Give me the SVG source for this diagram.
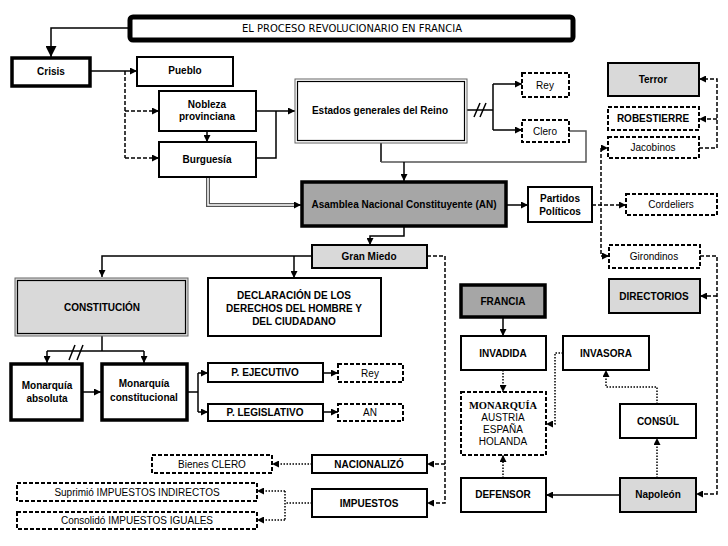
<svg xmlns="http://www.w3.org/2000/svg" width="728" height="546" viewBox="0 0 728 546">
<defs>
<marker id="ah" viewBox="0 0 8 8" refX="8" refY="4" markerWidth="7" markerHeight="7" orient="auto" markerUnits="userSpaceOnUse"><path d="M0,0 L8,4 L0,8 z" fill="#000"/></marker>
<marker id="ahb" viewBox="0 0 8 8" refX="8" refY="4" markerWidth="11" markerHeight="11" orient="auto" markerUnits="userSpaceOnUse"><path d="M0,0 L8,4 L0,8 z" fill="#000"/></marker>
<style>
.b{fill:#fff;stroke:#000;stroke-width:2}
.t{fill:#fff;stroke:#000;stroke-width:3.5}
.d{fill:#fff;stroke:#000;stroke-width:2;stroke-dasharray:4,2}
.g1{fill:#d9d9d9}
.g2{fill:#a6a6a6}
.tb{font-family:"Liberation Sans",Arial,sans-serif;font-size:10px;font-weight:bold;text-anchor:middle;fill:#000}
.tn{font-family:"Liberation Sans",Arial,sans-serif;font-size:10px;text-anchor:middle;fill:#000}
.s{fill:none;stroke:#000;stroke-width:1.5}
.da{fill:none;stroke:#000;stroke-width:1.5;stroke-dasharray:4,2}
.dt{fill:none;stroke:#000;stroke-width:1.5;stroke-dasharray:1.5,1.5}
</style>
</defs>
<rect width="728" height="546" fill="#fff"/>

<g id="connectors">
<path class="s" d="M128,28 H51 V57" stroke-width="3" marker-end="url(#ahb)"/>
<path class="s" d="M91,71 H137" marker-end="url(#ah)"/>
<path class="da" d="M125,71 V158"/>
<path class="da" d="M125,111 H159" marker-end="url(#ah)"/>
<path class="da" d="M125,158 H159" marker-end="url(#ah)"/>
<path class="s" d="M207,131 V142" marker-end="url(#ah)"/>
<path class="s" d="M256,111 H295" marker-end="url(#ah)"/>
<path class="s" d="M256,158 H276 V111"/>
<path class="s" d="M467,110 H493"/>
<path class="s" d="M493,84 V130"/>
<path class="s" d="M493,84 H522" marker-end="url(#ah)"/>
<path class="s" d="M493,130 H522" marker-end="url(#ah)"/>
<path class="s" d="M474,117 L480,103 M480,117 L486,103"/>
<path class="s" d="M381,143 V162"/>
<path fill="none" stroke="#555" stroke-width="1.5" d="M381,162 H586 V131 H569"/>
<path class="s" d="M404,162 V181" marker-end="url(#ah)"/>
<path fill="none" stroke="#555" stroke-width="4" d="M208,177 V205 H296"/>
<path fill="none" stroke="#fff" stroke-width="1.5" d="M208,177 V205 H296"/>
<path class="s" d="M296,205 H301" marker-end="url(#ah)"/>
<path class="s" d="M507,205 H528" marker-end="url(#ah)"/>
<path class="da" d="M592,205 H626" marker-end="url(#ah)"/>
<path class="da" d="M601,148 V256"/>
<path class="da" d="M601,148 H608" marker-end="url(#ah)"/>
<path class="da" d="M601,256 H609" marker-end="url(#ah)"/>
<path class="da" d="M699,148 H717 V79 H699" marker-end="url(#ah)"/>
<path class="da" d="M717,119 H699" marker-end="url(#ah)"/>
<path class="da" d="M700,256 H717 V494 H696" marker-end="url(#ah)"/>
<path class="da" d="M717,296 H700" marker-end="url(#ah)"/>
<path class="s" d="M404,227 V236 H370 V245" marker-end="url(#ah)"/>
<path class="s" d="M312,256 H102 V277" marker-end="url(#ah)"/>
<path class="s" d="M294,256 V278" marker-end="url(#ah)"/>
<path class="da" d="M427,256 H445 V503 H427" marker-end="url(#ah)"/>
<path class="da" d="M445,464 H427" marker-end="url(#ah)"/>
<path class="s" d="M102,336 V351"/>
<path class="s" d="M47,351 H144"/>
<path class="s" d="M47,351 V363" marker-end="url(#ah)"/>
<path class="s" d="M144,351 V363" marker-end="url(#ah)"/>
<path class="s" d="M69,360 L75,345 M77,360 L83,345"/>
<path class="s" d="M83,392 H101" marker-end="url(#ah)"/>
<path class="s" d="M188,392 H198"/>
<path class="s" d="M198,373 V412"/>
<path class="s" d="M198,373 H208" marker-end="url(#ah)"/>
<path class="s" d="M198,412 H208" marker-end="url(#ah)"/>
<path class="s" d="M323,373 H338" marker-end="url(#ah)"/>
<path class="s" d="M323,412 H338" marker-end="url(#ah)"/>
<path class="dt" d="M312,464 H272" marker-end="url(#ah)"/>
<path class="dt" d="M312,503 H285"/>
<path class="dt" d="M285,491 V520"/>
<path class="dt" d="M285,491 H257" marker-end="url(#ah)"/>
<path class="dt" d="M285,520 H257" marker-end="url(#ah)"/>
<path class="s" d="M503,318 V336" marker-end="url(#ah)"/>
<path class="dt" d="M503,370 V392" marker-end="url(#ah)"/>
<path class="dt" d="M563,353 H555 V424 H546" marker-end="url(#ah)"/>
<path class="dt" d="M657,404 V387 H606 V370" marker-end="url(#ah)"/>
<path class="dt" d="M657,478 V438" marker-end="url(#ah)"/>
<path class="s" d="M620,495 H546" marker-end="url(#ah)"/>
<path class="dt" d="M503,478 V455" marker-end="url(#ah)"/>
</g>

<g id="title"><rect x="130" y="17" width="443" height="23" rx="3" fill="#fff" stroke="#000" stroke-width="5"/><text x="352" y="32" font-family="'DejaVu Sans',Verdana,sans-serif" font-size="10" text-anchor="middle">EL PROCESO REVOLUCIONARIO EN FRANCIA</text></g>
<g id="crisis"><rect class="t" x="12" y="58" width="78" height="28"/><text class="tb" x="51" y="75">Crisis</text></g>
<g id="pueblo"><rect class="b" x="137" y="57" width="96" height="29"/><text class="tb" x="185" y="74">Pueblo</text></g>
<g id="nobleza"><rect class="b" x="159" y="91" width="97" height="40"/><text class="tb" x="207" y="108">Nobleza</text><text class="tb" x="207" y="120">provinciana</text></g>
<g id="burguesia"><rect class="b" x="159" y="142" width="97" height="35"/><text class="tb" x="207" y="163">Burguesía</text></g>
<g id="estados"><rect x="295" y="79" width="172" height="64" fill="#fff" stroke="#666" stroke-width="1"/><rect x="297.5" y="81.5" width="167" height="59" fill="none" stroke="#000" stroke-width="1.2"/><text class="tb" x="380" y="114">Estados generales del Reino</text></g>
<g id="rey1"><rect class="d" x="522" y="73" width="47" height="24"/><text class="tn" x="545" y="89">Rey</text></g>
<g id="clero"><rect class="d" x="522" y="120" width="47" height="22"/><text class="tn" x="545" y="135">Clero</text></g>
<g id="terror"><rect class="b g1" x="608" y="63" width="91" height="33"/><text class="tb" x="653" y="83">Terror</text></g>
<g id="robestierre"><rect class="d" x="608" y="107" width="91" height="23"/><text class="tb" x="653" y="122">ROBESTIERRE</text></g>
<g id="jacobinos"><rect class="d" x="608" y="137" width="91" height="21"/><text class="tn" x="653" y="151">Jacobinos</text></g>
<g id="an"><rect class="t g2" x="302" y="182" width="204" height="44"/><text class="tb" x="404" y="208">Asamblea Nacional Constituyente (AN)</text></g>
<g id="partidos"><rect class="b" x="528" y="187" width="64" height="35"/><text class="tb" x="560" y="202">Partidos</text><text class="tb" x="560" y="215">Políticos</text></g>
<g id="cordeliers"><rect class="d" x="626" y="194" width="91" height="21"/><text class="tn" x="671" y="208">Cordeliers</text></g>
<g id="girondinos"><rect class="d" x="609" y="245" width="91" height="23"/><text class="tn" x="654" y="260">Girondinos</text></g>
<g id="directorios"><rect class="b g1" x="609" y="279" width="91" height="34"/><text class="tb" x="654" y="300">DIRECTORIOS</text></g>
<g id="granmiedo"><rect class="b g1" x="312" y="245" width="115" height="23"/><text class="tb" x="369" y="260">Gran Miedo</text></g>
<g id="constitucion"><rect x="15" y="278" width="173" height="58" fill="#d9d9d9" stroke="#666" stroke-width="1"/><rect x="17.5" y="280.5" width="168" height="53" fill="none" stroke="#000" stroke-width="1.2"/><text class="tb" x="102" y="311">CONSTITUCIÓN</text></g>
<g id="declaracion"><rect class="b" x="208" y="278" width="173" height="58"/><text class="tb" x="294" y="299">DECLARACIÓN DE LOS</text><text class="tb" x="294" y="312">DERECHOS DEL HOMBRE Y</text><text class="tb" x="294" y="325">DEL CIUDADANO</text></g>
<g id="absoluta"><rect class="t" x="11" y="364" width="71" height="56"/><text class="tb" x="47" y="389">Monarquía</text><text class="tb" x="47" y="402">absoluta</text></g>
<g id="constitucional"><rect class="t" x="102" y="364" width="85" height="56"/><text class="tb" x="144" y="387">Monarquía</text><text class="tb" x="144" y="401">constitucional</text></g>
<g id="ejecutivo"><rect class="b" x="208" y="363" width="115" height="19"/><text class="tb" x="265" y="376">P. EJECUTIVO</text></g>
<g id="legislativo"><rect class="b" x="208" y="404" width="115" height="17"/><text class="tb" x="265" y="416">P. LEGISLATIVO</text></g>
<g id="rey2"><rect class="d" x="338" y="364" width="65" height="18"/><text class="tn" x="370" y="377">Rey</text></g>
<g id="an2"><rect class="d" x="338" y="404" width="65" height="17"/><text class="tn" x="370" y="416">AN</text></g>
<g id="nacionalizo"><rect class="b" x="312" y="455" width="115" height="18"/><text class="tb" x="369" y="468">NACIONALIZÓ</text></g>
<g id="bienes"><rect class="d" x="152" y="455" width="120" height="18"/><text class="tn" x="212" y="468">Bienes CLERO</text></g>
<g id="impuestos"><rect class="b" x="312" y="489" width="115" height="28"/><text class="tb" x="369" y="507">IMPUESTOS</text></g>
<g id="suprimio"><rect class="d" x="17" y="483" width="240" height="18"/><text class="tn" x="137" y="496">Suprimió IMPUESTOS INDIRECTOS</text></g>
<g id="consolido"><rect class="d" x="17" y="512" width="240" height="17"/><text class="tn" x="137" y="524">Consolidó IMPUESTOS IGUALES</text></g>
<g id="francia"><rect class="t g2" x="461" y="285" width="84" height="32"/><text class="tb" x="503" y="305">FRANCIA</text></g>
<g id="invadida"><rect class="b" x="461" y="336" width="85" height="34"/><text class="tb" x="503" y="357">INVADIDA</text></g>
<g id="invasora"><rect class="b" x="563" y="336" width="86" height="34"/><text class="tb" x="606" y="357">INVASORA</text></g>
<g id="monarquia"><rect class="d" x="461" y="392" width="85" height="63"/><text x="503" y="409" font-family="'Liberation Serif','Times New Roman',serif" font-size="10.5" font-weight="bold" text-anchor="middle">MONARQUÍA</text><text class="tn" x="503" y="421">AUSTRIA</text><text class="tn" x="503" y="433">ESPAÑA</text><text class="tn" x="503" y="445">HOLANDA</text></g>
<g id="consul"><rect class="b" x="620" y="404" width="76" height="34"/><text class="tb" x="658" y="425">CONSÚL</text></g>
<g id="defensor"><rect class="b" x="461" y="478" width="85" height="34"/><text class="tb" x="503" y="498">DEFENSOR</text></g>
<g id="napoleon"><rect class="b g1" x="620" y="478" width="76" height="34"/><text class="tb" x="658" y="498">Napoleón</text></g>
</svg>
